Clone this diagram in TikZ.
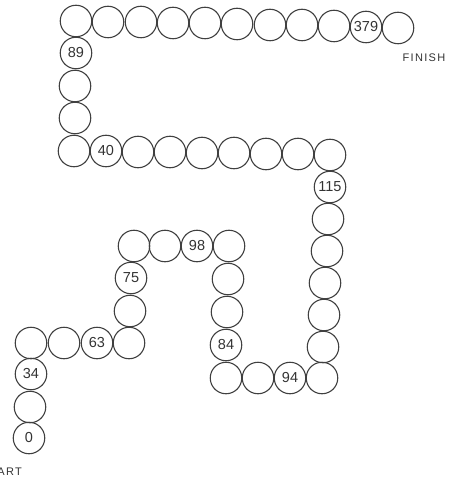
\documentclass[tikz,border=0pt]{standalone}
\usepackage{fontspec}
\setmainfont{Liberation Sans}
\begin{document}
\begin{tikzpicture}[x=1pt,y=-1pt,
  cell/.style={circle,draw=black!75,line width=1.1pt,minimum size=31.5pt,inner sep=0pt,
    font=\fontsize{14.5}{14.5}\selectfont,text=black!80},
  lbl/.style={font=\fontsize{11}{11}\selectfont\addfontfeature{LetterSpace=12},text=black!80,inner sep=0pt}]
\useasboundingbox (0,0) rectangle (459,481);
\foreach \x/\y/\t [count=\i] in {
  29/438/0, 30/407/, 31/374/34, 31/343/, 64/343/, 97/343/63, 129/343/,
  130/311/, 131/278/75, 134/246/, 165/246/, 197/246/98, 229/246/,
  228/279/, 227/312/, 226/345/84, 226/378/, 258/378/, 290/378/94, 322/378/,
  323/347/, 324/315/, 325/283/, 327/251/, 328/219/, 330/187/115, 330/155/,
  298/154/, 266/154/, 234/153/, 202/153/, 170/152/, 138/152/, 106/151/40, 74/151/,
  75/118/, 75/86/, 76/53/89, 76/21/, 108/22/, 141/22/, 173/23/, 205/23/,
  237/24/, 270/25/, 302/25/, 334/26/, 366/27/379, 398/28/}
  \node[cell] (c\i) at (\x,\y) {\t};
\node[lbl,anchor=east] (start) at (22,472) {START};
\node[lbl] (finish) at (424,58) {FINISH};
\end{tikzpicture}
\end{document}
